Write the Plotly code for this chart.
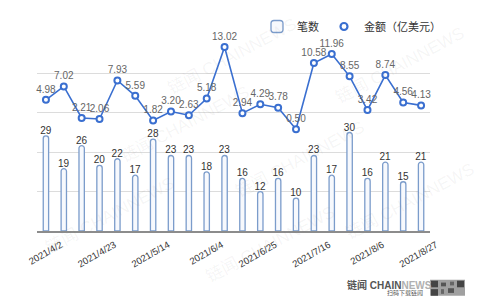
import plotly.graph_objects as go

dates = ["2021/4/2", "2021/4/9", "2021/4/16", "2021/4/23", "2021/4/30", "2021/5/7",
         "2021/5/14", "2021/5/21", "2021/5/28", "2021/6/4", "2021/6/11", "2021/6/18",
         "2021/6/25", "2021/7/2", "2021/7/9", "2021/7/16", "2021/7/23", "2021/7/30",
         "2021/8/6", "2021/8/13", "2021/8/20", "2021/8/27"]
counts = [29, 19, 26, 20, 22, 17, 28, 23, 23, 18, 23, 16, 12, 16, 10, 23, 17, 30, 16, 21, 15, 21]
amounts = [4.98, 7.02, 2.21, 2.06, 7.93, 5.59, 1.82, 3.20, 2.63, 5.18, 13.02, 2.94,
           4.29, 3.78, 0.50, 10.58, 11.96, 8.55, 3.42, 8.74, 4.56, 4.13]
tick_labels = ["2021/4/2", "2021/4/23", "2021/5/14", "2021/6/4", "2021/6/25",
               "2021/7/16", "2021/8/6", "2021/8/27"]

FONT = "Liberation Sans, Arial, Noto Sans CJK SC, sans-serif"
L, R, T, B, W, H = 37, 50, 21, 69, 480, 300
PW, PH = W - L - R, H - T - B


def px2paper(px, py):
    return (px - L) / PW, (H - B - py) / PH


BLUE = "#3a6fd0"
fig = go.Figure()
fig.add_trace(go.Bar(
    x=dates, y=counts, name="笔数",
    width=0.3,
    marker=dict(color="#f7f9fd", line=dict(color="#7b9ccb", width=1.3), cornerradius=3),
    text=[str(v) for v in counts], textposition="outside", constraintext="none",
    textfont=dict(color="#333333", size=10, family=FONT),
    cliponaxis=False, yaxis="y",
))
fig.add_trace(go.Scatter(
    x=dates, y=amounts, name="金额（亿美元）", mode="lines+markers+text",
    line=dict(color=BLUE, width=1.6),
    marker=dict(symbol="circle", size=6, color="white", line=dict(color=BLUE, width=2)),
    text=[f"{v:.2f}" for v in amounts], textposition="top center",
    textfont=dict(color="#666666", size=10, family=FONT),
    cliponaxis=False, yaxis="y2", showlegend=False,
))
# legend entry for the line (marker only, as in the reference)
fig.add_trace(go.Scatter(
    x=[None], y=[None], name="金额（亿美元）", mode="markers",
    marker=dict(symbol="circle", size=7, color="white", line=dict(color=BLUE, width=2.2)),
    yaxis="y2",
))

# watermarks (faint)
wm = [(232, 45), (185, 118), (400, 55), (300, 155), (110, 215), (270, 245), (410, 200)]
for (px, py) in wm:
    xp, yp = px2paper(px, py)
    fig.add_annotation(text="链闻 CHAINNEWS", x=xp, y=yp, xanchor="center", yanchor="middle",
                       xref="paper", yref="paper", showarrow=False, textangle=-28,
                       font=dict(size=17, color="rgba(120,120,120,0.07)", family=FONT))

# bottom-right logo
xp, yp = px2paper(389, 289)
fig.add_annotation(text="<b>链闻 CHAIN<span style='color:#b0b0b0'>NEWS</span></b>",
                   x=xp, y=yp, xanchor="center", yanchor="middle", xref="paper", yref="paper",
                   showarrow=False, font=dict(size=10, color="#555555", family=FONT))
xp, yp = px2paper(405, 297)
fig.add_annotation(text="扫码下载链闻", x=xp, y=yp, xanchor="center", yanchor="middle",
                   xref="paper", yref="paper", showarrow=False,
                   font=dict(size=6, color="#555555", family=FONT))
qr = [(430, 283, 465, 300, "#a0a0a0"), (431, 284, 438, 291, "#444"), (457, 284, 464, 291, "#444"),
      (431, 293, 438, 300, "#444"), (441, 286, 446, 290, "#555"), (448, 292, 454, 297, "#555"),
      (441, 293, 444, 298, "#666"), (450, 285, 454, 289, "#666")]
for (x0, y0, x1, y1, c) in qr:
    a0, b0 = px2paper(x0, y0)
    a1, b1 = px2paper(x1, y1)
    fig.add_shape(type="rect", xref="paper", yref="paper", x0=a0, x1=a1,
                  y0=b0, y1=b1, fillcolor=c, line=dict(width=0))

lx, ly = px2paper(446, 13)
fig.update_layout(
    width=W, height=H,
    margin=dict(l=L, r=R, t=T, b=B),
    paper_bgcolor="white", plot_bgcolor="white",
    font=dict(family=FONT, color="#333333"),
    showlegend=True,
    legend=dict(orientation="h", x=lx, xanchor="right", y=ly, yanchor="middle",
                font=dict(size=11, color="#333333"), bgcolor="rgba(0,0,0,0)",
                tracegroupgap=0),
    xaxis=dict(type="category", tickmode="array", tickvals=tick_labels, ticktext=tick_labels,
               tickangle=-30, tickfont=dict(size=9.5, color="#333333"),
               ticklabelshift=15, ticklabelstandoff=3,
               showline=True, linecolor="#8c8c8c", linewidth=1.5, ticks="",
               showgrid=False, range=[-0.5, 21.5]),
    yaxis=dict(range=[0, 60], dtick=12, showticklabels=False, showgrid=True,
               gridcolor="#dcdcdc", gridwidth=1, zeroline=False),
    yaxis2=dict(range=[-15, 15], overlaying="y", side="right", showticklabels=False,
                showgrid=False, zeroline=False),
    bargap=0.7,
)

fig.write_html("out.html")
